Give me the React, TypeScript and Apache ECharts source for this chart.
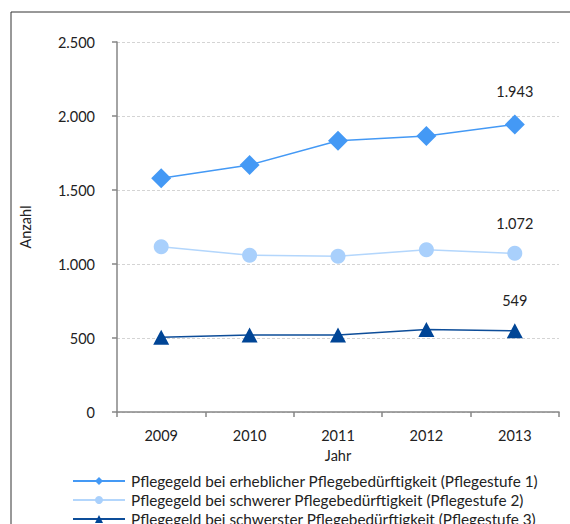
import React, { useEffect, useRef } from "react";
import * as echarts from "echarts";

const years = ["2009", "2010", "2011", "2012", "2013"];
const stufe1 = [1579, 1669, 1833, 1865, 1943];
const stufe2 = [1117, 1059, 1052, 1097, 1072];
const stufe3 = [505, 520, 520, 558, 549];
const seriesNames = [
  "Pflegegeld bei erheblicher Pflegebedürftigkeit (Pflegestufe 1)",
  "Pflegegeld bei schwerer Pflegebedürftigkeit (Pflegestufe 2)",
  "Pflegegeld bei schwerster Pflegebedürftigkeit (Pflegestufe 3)",
];
const yTicks = [0, 500, 1000, 1500, 2000, 2500];

const FONT = "Lato";
const fmt = (v: number) => v.toLocaleString("de-DE");

function withLastLabel(values: number[]) {
  return values.map((v, i) =>
    i === values.length - 1
      ? {
          value: v,
          label: {
            show: true,
            position: "top",
            distance: 15,
            formatter: () => fmt(v),
            color: "#222",
            fontSize: 14.5,
            fontFamily: FONT,
          },
        }
      : v
  );
}

export default function App() {
  const ref = useRef<HTMLDivElement>(null);
  useEffect(() => {
    if (!ref.current) return;
    const chart = echarts.init(ref.current, undefined, { renderer: "svg" });
    chart.setOption({
      animation: false,
      backgroundColor: "#fff",
      textStyle: { fontFamily: FONT },
      graphic: [
        {
          type: "rect",
          shape: { x: 11, y: 12, width: 700, height: 700 },
          style: { fill: "none", stroke: "#333", lineWidth: 1 },
          z: 100,
        },
      ],
      grid: { left: 117, right: 11, top: 42, bottom: 112, containLabel: false },
      xAxis: {
        type: "category",
        data: years,
        boundaryGap: true,
        name: "Jahr",
        nameLocation: "middle",
        nameGap: 31,
        nameTextStyle: { color: "#222", fontSize: 14.5, fontFamily: FONT },
        axisLine: { lineStyle: { color: "#868686", width: 1.5 } },
        axisTick: { show: true, length: 5, lineStyle: { color: "#868686", width: 1.5 } },
        axisLabel: { color: "#222", fontSize: 14.5, margin: 16, fontFamily: FONT },
        splitLine: { show: false },
      },
      yAxis: {
        type: "value",
        min: 0,
        max: 2500,
        interval: 500,
        name: "Anzahl",
        nameLocation: "middle",
        nameGap: 84,
        nameRotate: 90,
        nameTextStyle: { color: "#222", fontSize: 14.5, fontFamily: FONT },
        axisLine: { show: true, lineStyle: { color: "#868686", width: 1.5 } },
        axisTick: { show: true, length: 5, lineStyle: { color: "#868686", width: 1.5 } },
        axisLabel: {
          color: "#222",
          fontSize: 14.5,
          margin: 22,
          fontFamily: FONT,
          formatter: (v: number) => (yTicks.includes(v) ? fmt(v) : ""),
        },
        splitLine: { show: true, lineStyle: { color: "#d4d4d4", type: [3, 2], width: 1 } },
      },
      legend: {
        orient: "vertical",
        left: 72,
        top: 473,
        height: 100,
        padding: 0,
        itemWidth: 52,
        itemHeight: 10,
        itemGap: 3,
        textStyle: { color: "#222", fontSize: 15.3, fontFamily: FONT, lineHeight: 16, padding: [0, 0, 0, 1] },
        data: seriesNames,
      },
      series: [
        {
          name: seriesNames[0],
          type: "line",
          data: withLastLabel(stufe1),
          symbol: "diamond",
          symbolSize: 20,
          lineStyle: { color: "#4499f5", width: 1.5 },
          itemStyle: { color: "#4499f5" },
        },
        {
          name: seriesNames[1],
          type: "line",
          data: withLastLabel(stufe2),
          symbol: "circle",
          symbolSize: 15,
          lineStyle: { color: "#b3d6fc", width: 1.5 },
          itemStyle: { color: "#a9d0fc" },
        },
        {
          name: seriesNames[2],
          type: "line",
          data: withLastLabel(stufe3),
          symbol: "triangle",
          symbolSize: [16, 15],
          lineStyle: { color: "#0d4d99", width: 1.5 },
          itemStyle: { color: "#004596" },
        },
      ],
    });
    return () => chart.dispose();
  }, []);
  return (
    <div
      ref={ref}
      style={{ position: "absolute", left: 0, top: 0, width: 570, height: 524 }}
    />
  );
}
